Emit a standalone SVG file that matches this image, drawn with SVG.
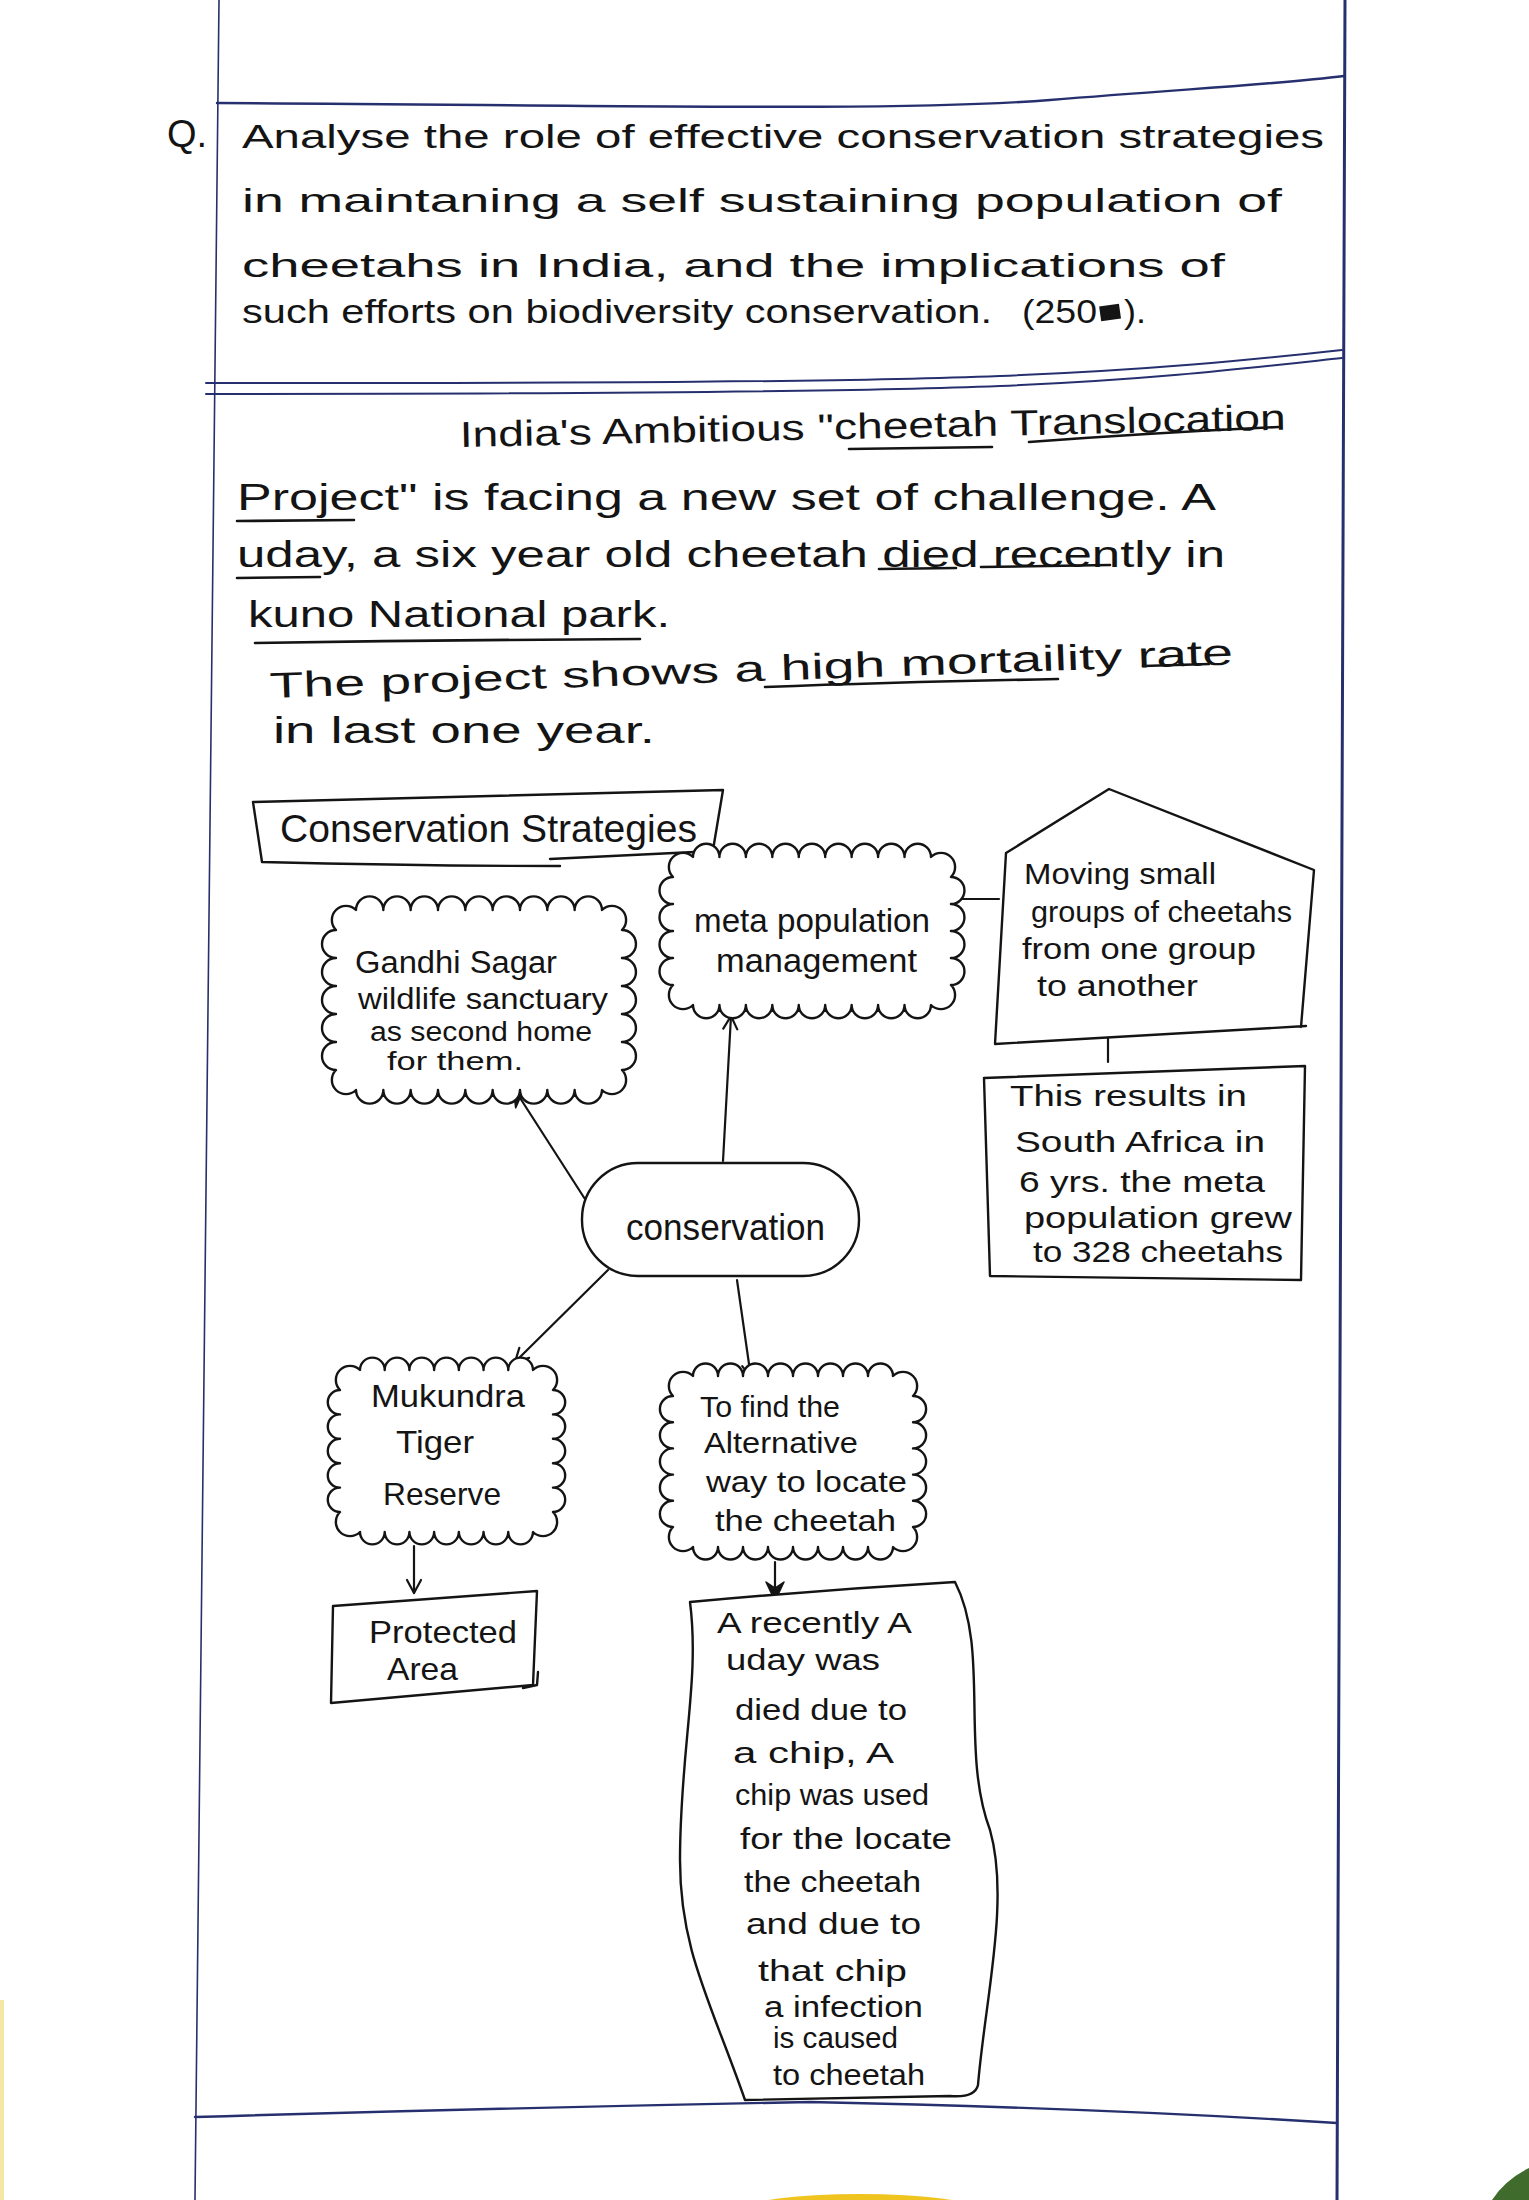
<svg xmlns="http://www.w3.org/2000/svg" width="1529" height="2200" viewBox="0 0 1529 2200">
<defs>
<style>
.hw{font-family:"Liberation Sans","DejaVu Sans",sans-serif;fill:#141414}
.q{font-size:34px}
.p{font-size:36px}
.n32{font-size:32px}
.n30{font-size:30px}
.ink{fill:none;stroke:#141414;stroke-width:2.4;stroke-linejoin:round;stroke-linecap:round}
.shape{fill:#fff;stroke:#141414;stroke-width:2.4;stroke-linejoin:round;stroke-linecap:round}
.ul{fill:none;stroke:#141414;stroke-width:2.6;stroke-linecap:round}
.page{fill:none;stroke:#27306e;stroke-linecap:round}
.con{fill:none;stroke:#141414;stroke-width:2.2;stroke-linecap:round}
</style>
<marker id="av" viewBox="0 0 20 20" refX="18" refY="10" markerWidth="20" markerHeight="20" markerUnits="userSpaceOnUse" orient="auto">
<path d="M5,3 L18,10 L5,17" fill="none" stroke="#141414" stroke-width="2.2" stroke-linejoin="round" stroke-linecap="round"/>
</marker>
<marker id="af" viewBox="0 0 24 24" refX="22" refY="12" markerWidth="24" markerHeight="24" markerUnits="userSpaceOnUse" orient="auto">
<path d="M3,3 L22,12 L3,21 L9,12 Z" fill="#141414" stroke="#141414" stroke-width="1.5" stroke-linejoin="round"/>
</marker>
</defs>
<rect width="1529" height="2200" fill="#ffffff"/>

<!-- page ruling -->
<g id="page">
<path class="page" stroke-width="1.6" d="M219,0 L195,2200"/>
<path class="page" stroke-width="3" d="M1345,0 L1337,2200"/>
<path class="page" stroke-width="2.4" d="M217,103 C600,105 900,112 1050,100 S1280,84 1344,76"/>
<path class="page" stroke-width="2" d="M206,383 C600,383 850,382 1000,376 S1250,360 1342,350"/>
<path class="page" stroke-width="2" d="M206,394 C600,394 850,392 1000,386 S1250,368 1342,358"/>
<path class="page" stroke-width="2.4" d="M195,2117 Q500,2108 810,2102 Q1100,2108 1337,2123"/>
<rect x="0" y="2000" width="4" height="200" fill="#f3e7a6"/>
<ellipse cx="860" cy="2210" rx="118" ry="16" fill="#f0c41f"/>
<path d="M1492,2200 Q1505,2180 1529,2168 L1529,2200 Z" fill="#3f6b2c"/>
</g>

<!-- question -->
<g id="question">
<text class="hw" x="167" y="147" font-size="38">Q.</text>
<text class="hw q" x="242" y="148" textLength="1082" lengthAdjust="spacingAndGlyphs">Analyse the role of effective conservation strategies</text>
<text class="hw q" x="242" y="212" textLength="1040" lengthAdjust="spacingAndGlyphs">in maintaning a self sustaining population of</text>
<text class="hw q" x="242" y="277" textLength="983" lengthAdjust="spacingAndGlyphs">cheetahs in India, and the implications of</text>
<text class="hw q" x="242" y="323" textLength="750" lengthAdjust="spacingAndGlyphs">such efforts on biodiversity conservation.</text>
<text class="hw q" x="1022" y="323" textLength="75" lengthAdjust="spacingAndGlyphs">(250</text>
<rect x="1100" y="305" width="20" height="15" fill="#141414" transform="rotate(-8 1110 312)"/>
<text class="hw q" x="1124" y="323" textLength="22" lengthAdjust="spacingAndGlyphs">).</text>
</g>

<!-- intro paragraph -->
<g id="intro">
<text class="hw p" x="460" y="447" textLength="826" lengthAdjust="spacingAndGlyphs" transform="rotate(-1.2 460 447)">India's Ambitious "cheetah Translocation</text>
<text class="hw p" x="237" y="510" textLength="979" lengthAdjust="spacingAndGlyphs">Project" is facing a new set of challenge. A</text>
<text class="hw p" x="237" y="567" textLength="988" lengthAdjust="spacingAndGlyphs">uday, a six year old cheetah died recently in</text>
<text class="hw p" x="248" y="627" textLength="422" lengthAdjust="spacingAndGlyphs">kuno National park.</text>
<text class="hw p" x="270" y="698" textLength="964" lengthAdjust="spacingAndGlyphs" transform="rotate(-2 270 698)">The project shows a high mortaility rate</text>
<text class="hw p" x="273" y="743" textLength="382" lengthAdjust="spacingAndGlyphs">in last one year.</text>
<path class="ul" d="M849,449 L992,447"/>
<path class="ul" d="M1029,442 Q1150,433 1278,427"/>
<path class="ul" d="M237,521 L354,520"/>
<path class="ul" d="M237,578 L320,577"/>
<path class="ul" d="M879,569 L956,568"/>
<path class="ul" d="M981,567 L1110,565"/>
<path class="ul" stroke-width="3" d="M255,643 Q450,640 640,639"/>
<path class="ul" d="M765,687 Q900,682 1058,679"/>
<path class="ul" d="M1143,666 L1209,664"/>
</g>

<!-- connectors -->
<g id="connectors">
<path class="con" stroke-width="2.6" d="M592,1210 L513,1087" marker-end="url(#af)"/>
<path class="con" d="M723,1161 L731,1016" marker-end="url(#av)"/>
<path class="con" d="M608,1270 L515,1362" marker-end="url(#av)"/>
<path class="con" d="M737,1280 L751,1378" marker-end="url(#av)"/>
<path class="con" d="M414,1546 L414,1593" marker-end="url(#av)"/>
<path class="con" stroke-width="2.8" d="M775,1562 L775,1601" marker-end="url(#af)"/>
<path class="con" stroke-width="2.6" d="M962,899 L999,899"/>
<path class="con" stroke-width="3.4" d="M1108,1033 L1108,1062"/>
</g>

<g id="title-strategies">
<path class="ink" d="M253,802 L723,790 L713,850 M262,862 L253,802 M262,862 Q420,866 560,866 M550,859 Q640,855 715,851"/>
<text class="hw" x="280" y="842" font-size="38" textLength="417" lengthAdjust="spacingAndGlyphs">Conservation Strategies</text>
</g>

<g id="node-gandhi">
<path class="shape" d="M356,910 a1 1 0 0 1 27.33 0 a1 1 0 0 1 27.33 0 a1 1 0 0 1 27.33 0 a1 1 0 0 1 27.33 0 a1 1 0 0 1 27.33 0 a1 1 0 0 1 27.33 0 a1 1 0 0 1 27.33 0 a1 1 0 0 1 27.33 0 a1 1 0 0 1 27.33 0 a1 1 0 0 1 20 20 a1 1 0 0 1 0 28 a1 1 0 0 1 0 28 a1 1 0 0 1 0 28 a1 1 0 0 1 0 28 a1 1 0 0 1 0 28 a1 1 0 0 1 -20 20 a1 1 0 0 1 -27.33 0 a1 1 0 0 1 -27.33 0 a1 1 0 0 1 -27.33 0 a1 1 0 0 1 -27.33 0 a1 1 0 0 1 -27.33 0 a1 1 0 0 1 -27.33 0 a1 1 0 0 1 -27.33 0 a1 1 0 0 1 -27.33 0 a1 1 0 0 1 -27.33 0 a1 1 0 0 1 -20 -20 a1 1 0 0 1 0 -28 a1 1 0 0 1 0 -28 a1 1 0 0 1 0 -28 a1 1 0 0 1 0 -28 a1 1 0 0 1 0 -28 a1 1 0 0 1 20 -20 Z"/>
<text class="hw" font-size="31" x="355" y="973" textLength="202" lengthAdjust="spacingAndGlyphs">Gandhi Sagar</text>
<text class="hw" font-size="30" x="358" y="1009" textLength="250" lengthAdjust="spacingAndGlyphs">wildlife sanctuary</text>
<text class="hw" font-size="27" x="370" y="1041" textLength="222" lengthAdjust="spacingAndGlyphs">as second home</text>
<text class="hw" font-size="26" x="387" y="1070" textLength="136" lengthAdjust="spacingAndGlyphs">for them.</text>
</g>

<g id="node-meta">
<path class="shape" d="M693,857 a1 1 0 0 1 26.44 0 a1 1 0 0 1 26.44 0 a1 1 0 0 1 26.44 0 a1 1 0 0 1 26.44 0 a1 1 0 0 1 26.44 0 a1 1 0 0 1 26.44 0 a1 1 0 0 1 26.44 0 a1 1 0 0 1 26.44 0 a1 1 0 0 1 26.44 0 a1 1 0 0 1 20 20 a1 1 0 0 1 0 27 a1 1 0 0 1 0 27 a1 1 0 0 1 0 27 a1 1 0 0 1 0 27 a1 1 0 0 1 -20 20 a1 1 0 0 1 -26.44 0 a1 1 0 0 1 -26.44 0 a1 1 0 0 1 -26.44 0 a1 1 0 0 1 -26.44 0 a1 1 0 0 1 -26.44 0 a1 1 0 0 1 -26.44 0 a1 1 0 0 1 -26.44 0 a1 1 0 0 1 -26.44 0 a1 1 0 0 1 -26.44 0 a1 1 0 0 1 -20 -20 a1 1 0 0 1 0 -27 a1 1 0 0 1 0 -27 a1 1 0 0 1 0 -27 a1 1 0 0 1 0 -27 a1 1 0 0 1 20 -20 Z"/>
<text class="hw" font-size="34" x="694" y="932" textLength="236" lengthAdjust="spacingAndGlyphs">meta population</text>
<text class="hw" font-size="34" x="716" y="972" textLength="201" lengthAdjust="spacingAndGlyphs">management</text>
</g>

<g id="node-moving">
<path class="shape" d="M1006,853 L1109,789 L1314,870 L1301,1027 M1306,1026 L995,1044 L1006,853"/>
<text class="hw n30" x="1024" y="884" textLength="192" lengthAdjust="spacingAndGlyphs">Moving small</text>
<text class="hw n30" x="1031" y="922" textLength="261" lengthAdjust="spacingAndGlyphs">groups of cheetahs</text>
<text class="hw n30" x="1022" y="959" textLength="234" lengthAdjust="spacingAndGlyphs">from one group</text>
<text class="hw n30" x="1037" y="996" textLength="161" lengthAdjust="spacingAndGlyphs">to another</text>
</g>

<g id="node-result">
<path class="shape" d="M984,1078 L1305,1066 L1301,1280 L990,1276 Z"/>
<text class="hw n30" x="1010" y="1106" textLength="237" lengthAdjust="spacingAndGlyphs">This results in</text>
<text class="hw n30" x="1015" y="1152" textLength="250" lengthAdjust="spacingAndGlyphs">South Africa in</text>
<text class="hw n30" x="1019" y="1192" textLength="246" lengthAdjust="spacingAndGlyphs">6 yrs. the meta</text>
<text class="hw n30" x="1024" y="1228" textLength="268" lengthAdjust="spacingAndGlyphs">population grew</text>
<text class="hw n30" x="1033" y="1262" textLength="250" lengthAdjust="spacingAndGlyphs">to 328 cheetahs</text>
</g>

<g id="node-conservation">
<rect class="shape" x="582" y="1163" width="277" height="113" rx="56" ry="56"/>
<text class="hw" font-size="36" x="626" y="1240" textLength="199" lengthAdjust="spacingAndGlyphs">conservation</text>
</g>

<g id="node-mukundra">
<path class="shape" d="M360,1370 a1 1 0 0 1 24.71 0 a1 1 0 0 1 24.71 0 a1 1 0 0 1 24.71 0 a1 1 0 0 1 24.71 0 a1 1 0 0 1 24.71 0 a1 1 0 0 1 24.71 0 a1 1 0 0 1 24.71 0 a1 1 0 0 1 20 20 a1 1 0 0 1 0 24.4 a1 1 0 0 1 0 24.4 a1 1 0 0 1 0 24.4 a1 1 0 0 1 0 24.4 a1 1 0 0 1 0 24.4 a1 1 0 0 1 -20 20 a1 1 0 0 1 -24.71 0 a1 1 0 0 1 -24.71 0 a1 1 0 0 1 -24.71 0 a1 1 0 0 1 -24.71 0 a1 1 0 0 1 -24.71 0 a1 1 0 0 1 -24.71 0 a1 1 0 0 1 -24.71 0 a1 1 0 0 1 -20 -20 a1 1 0 0 1 0 -24.4 a1 1 0 0 1 0 -24.4 a1 1 0 0 1 0 -24.4 a1 1 0 0 1 0 -24.4 a1 1 0 0 1 0 -24.4 a1 1 0 0 1 20 -20 Z"/>
<text class="hw n32" x="371" y="1407" textLength="154" lengthAdjust="spacingAndGlyphs">Mukundra</text>
<text class="hw n32" x="396" y="1453" textLength="78" lengthAdjust="spacingAndGlyphs">Tiger</text>
<text class="hw n32" x="383" y="1505" textLength="118" lengthAdjust="spacingAndGlyphs">Reserve</text>
</g>

<g id="node-alternative">
<path class="shape" d="M693,1376 a1 1 0 0 1 25 0 a1 1 0 0 1 25 0 a1 1 0 0 1 25 0 a1 1 0 0 1 25 0 a1 1 0 0 1 25 0 a1 1 0 0 1 25 0 a1 1 0 0 1 25 0 a1 1 0 0 1 25 0 a1 1 0 0 1 20 20 a1 1 0 0 1 0 26.2 a1 1 0 0 1 0 26.2 a1 1 0 0 1 0 26.2 a1 1 0 0 1 0 26.2 a1 1 0 0 1 0 26.2 a1 1 0 0 1 -20 20 a1 1 0 0 1 -25 0 a1 1 0 0 1 -25 0 a1 1 0 0 1 -25 0 a1 1 0 0 1 -25 0 a1 1 0 0 1 -25 0 a1 1 0 0 1 -25 0 a1 1 0 0 1 -25 0 a1 1 0 0 1 -25 0 a1 1 0 0 1 -20 -20 a1 1 0 0 1 0 -26.2 a1 1 0 0 1 0 -26.2 a1 1 0 0 1 0 -26.2 a1 1 0 0 1 0 -26.2 a1 1 0 0 1 0 -26.2 a1 1 0 0 1 20 -20 Z"/>
<text class="hw n30" x="700" y="1417" textLength="140" lengthAdjust="spacingAndGlyphs">To find the</text>
<text class="hw n30" x="704" y="1453" textLength="154" lengthAdjust="spacingAndGlyphs">Alternative</text>
<text class="hw n30" x="706" y="1492" textLength="201" lengthAdjust="spacingAndGlyphs">way to locate</text>
<text class="hw n30" x="715" y="1531" textLength="181" lengthAdjust="spacingAndGlyphs">the cheetah</text>
</g>

<g id="node-protected">
<path class="shape" d="M333,1606 L537,1591 L533,1685 L331,1703 Z"/>
<path class="ink" d="M523,1688 L537,1685 L538,1672"/>
<text class="hw n32" x="369" y="1643" textLength="148" lengthAdjust="spacingAndGlyphs">Protected</text>
<text class="hw n32" x="387" y="1680" textLength="71" lengthAdjust="spacingAndGlyphs">Area</text>
</g>

<g id="node-chip">
<path class="shape" d="M690,1602 Q820,1590 955,1582 C990,1650 960,1750 990,1830 C1010,1900 985,2000 978,2085 Q975,2098 950,2096 L745,2100 C710,2000 680,1950 680,1860 C680,1750 700,1680 690,1602 Z"/>
<text class="hw n30" x="717" y="1633" textLength="195" lengthAdjust="spacingAndGlyphs">A recently A</text>
<text class="hw n30" x="726" y="1670" textLength="154" lengthAdjust="spacingAndGlyphs">uday was</text>
<text class="hw n30" x="735" y="1720" textLength="172" lengthAdjust="spacingAndGlyphs">died due to</text>
<text class="hw n30" x="733" y="1763" textLength="161" lengthAdjust="spacingAndGlyphs">a chip, A</text>
<text class="hw n30" x="735" y="1805" textLength="194" lengthAdjust="spacingAndGlyphs">chip was used</text>
<text class="hw n30" x="740" y="1849" textLength="212" lengthAdjust="spacingAndGlyphs">for the locate</text>
<text class="hw n30" x="744" y="1892" textLength="177" lengthAdjust="spacingAndGlyphs">the cheetah</text>
<text class="hw n30" x="746" y="1934" textLength="175" lengthAdjust="spacingAndGlyphs">and due to</text>
<text class="hw n30" x="758" y="1981" textLength="149" lengthAdjust="spacingAndGlyphs">that chip</text>
<text class="hw n30" x="764" y="2017" textLength="159" lengthAdjust="spacingAndGlyphs">a infection</text>
<text class="hw n30" x="773" y="2048" textLength="125" lengthAdjust="spacingAndGlyphs">is caused</text>
<text class="hw n30" x="773" y="2085" textLength="152" lengthAdjust="spacingAndGlyphs">to cheetah</text>
</g>
</svg>
